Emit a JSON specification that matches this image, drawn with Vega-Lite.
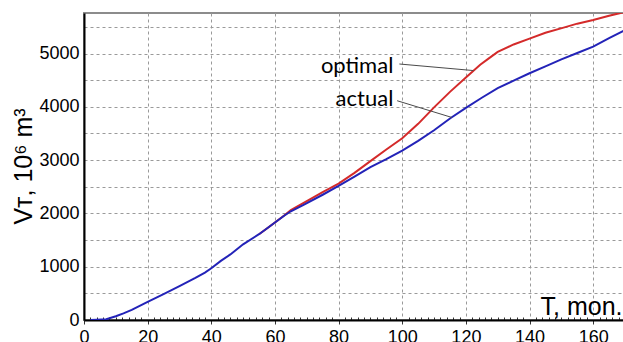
{
  "$schema": "https://vega.github.io/schema/vega-lite/v6.json",
  "width": 541,
  "height": 307,
  "autosize": {"type": "none"},
  "padding": {"left": 84, "top": 13, "right": 0, "bottom": 22},
  "background": "white",
  "config": {"view": {"stroke": "#8c8c8c", "strokeWidth": 2}, "font": "Liberation Sans"},
  "datasets": {
    "curves": [
      {"T": 55, "V": 1610, "s": "optimal"},
      {"T": 58, "V": 1740, "s": "optimal"},
      {"T": 60, "V": 1830, "s": "optimal"},
      {"T": 63, "V": 1965, "s": "optimal"},
      {"T": 65, "V": 2060, "s": "optimal"},
      {"T": 70, "V": 2230, "s": "optimal"},
      {"T": 75, "V": 2400, "s": "optimal"},
      {"T": 80, "V": 2560, "s": "optimal"},
      {"T": 85, "V": 2760, "s": "optimal"},
      {"T": 90, "V": 2980, "s": "optimal"},
      {"T": 95, "V": 3200, "s": "optimal"},
      {"T": 100, "V": 3410, "s": "optimal"},
      {"T": 105, "V": 3680, "s": "optimal"},
      {"T": 110, "V": 3990, "s": "optimal"},
      {"T": 115, "V": 4280, "s": "optimal"},
      {"T": 120, "V": 4550, "s": "optimal"},
      {"T": 124.5, "V": 4790, "s": "optimal"},
      {"T": 127, "V": 4900, "s": "optimal"},
      {"T": 130, "V": 5030, "s": "optimal"},
      {"T": 135, "V": 5170, "s": "optimal"},
      {"T": 140, "V": 5280, "s": "optimal"},
      {"T": 145, "V": 5390, "s": "optimal"},
      {"T": 150.7, "V": 5485, "s": "optimal"},
      {"T": 155, "V": 5560, "s": "optimal"},
      {"T": 160, "V": 5630, "s": "optimal"},
      {"T": 165, "V": 5710, "s": "optimal"},
      {"T": 170, "V": 5780, "s": "optimal"},
      {"T": 2, "V": 0, "s": "actual"},
      {"T": 4, "V": 5, "s": "actual"},
      {"T": 7, "V": 15, "s": "actual"},
      {"T": 10, "V": 70, "s": "actual"},
      {"T": 12.4, "V": 125, "s": "actual"},
      {"T": 15, "V": 190, "s": "actual"},
      {"T": 20, "V": 340, "s": "actual"},
      {"T": 25, "V": 485, "s": "actual"},
      {"T": 30, "V": 635, "s": "actual"},
      {"T": 35, "V": 790, "s": "actual"},
      {"T": 38, "V": 890, "s": "actual"},
      {"T": 40, "V": 970, "s": "actual"},
      {"T": 43, "V": 1110, "s": "actual"},
      {"T": 46, "V": 1230, "s": "actual"},
      {"T": 50, "V": 1420, "s": "actual"},
      {"T": 55, "V": 1610, "s": "actual"},
      {"T": 58, "V": 1740, "s": "actual"},
      {"T": 60, "V": 1830, "s": "actual"},
      {"T": 63, "V": 1960, "s": "actual"},
      {"T": 65, "V": 2040, "s": "actual"},
      {"T": 69, "V": 2160, "s": "actual"},
      {"T": 75, "V": 2350, "s": "actual"},
      {"T": 80, "V": 2515, "s": "actual"},
      {"T": 85, "V": 2690, "s": "actual"},
      {"T": 90, "V": 2870, "s": "actual"},
      {"T": 95, "V": 3020, "s": "actual"},
      {"T": 100, "V": 3180, "s": "actual"},
      {"T": 105, "V": 3360, "s": "actual"},
      {"T": 110, "V": 3560, "s": "actual"},
      {"T": 115, "V": 3780, "s": "actual"},
      {"T": 120, "V": 3980, "s": "actual"},
      {"T": 125, "V": 4170, "s": "actual"},
      {"T": 130, "V": 4350, "s": "actual"},
      {"T": 135, "V": 4490, "s": "actual"},
      {"T": 140, "V": 4630, "s": "actual"},
      {"T": 145, "V": 4760, "s": "actual"},
      {"T": 150, "V": 4890, "s": "actual"},
      {"T": 155, "V": 5010, "s": "actual"},
      {"T": 160, "V": 5130, "s": "actual"},
      {"T": 165, "V": 5290, "s": "actual"},
      {"T": 170, "V": 5440, "s": "actual"}
    ],
    "leaders": [
      {"x1": 99.1, "y1": 4803, "x2": 122.4, "y2": 4680},
      {"x1": 98.4, "y1": 4114, "x2": 115.6, "y2": 3800}
    ],
    "notes": [
      {"T": 97.2, "V": 4765, "label": "optimal"},
      {"T": 97.2, "V": 4146, "label": "actual"}
    ]
  },
  "layer": [
    {
      "data": {"name": "curves"},
      "mark": {"type": "line", "strokeWidth": 2, "clip": true},
      "encoding": {
        "x": {
          "field": "T", "type": "quantitative",
          "scale": {"domain": [0, 170], "nice": false},
          "axis": {
            "values": [0,2,4,6,8,10,12,14,16,18,20,22,24,26,28,30,32,34,36,38,40,42,44,46,48,50,52,54,56,58,60,62,64,66,68,70,72,74,76,78,80,82,84,86,88,90,92,94,96,98,100,102,104,106,108,110,112,114,116,118,120,122,124,126,128,130,132,134,136,138,140,142,144,146,148,150,152,154,156,158,160,162,164,166,168,170],
            "tickCount": 500,
            "format": "d",
            "labelExpr": "datum.value % 20 === 0 ? datum.label : ''",
            "labelFontSize": 18,
            "labelColor": "black",
            "labelPadding": 4,
            "labelFlush": false,
            "labelOverlap": false,
            "grid": true,
            "gridDash": [3, 3],
            "gridColor": "#9a9a9a",
            "gridWidth": 1,
            "gridOpacity": {"condition": {"test": "datum.value % 20 === 0 && datum.value > 0", "value": 1}, "value": 0},
            "domainColor": "black",
            "domainWidth": 2,
            "tickColor": "#333",
            "tickWidth": 1,
            "tickSize": {"condition": {"test": "datum.value % 20 === 0", "value": 4}, "value": -3},
            "title": "T, mon.",
            "titleFont": "Liberation Sans",
            "titleFontSize": 25,
            "titleFontWeight": "normal",
            "titleColor": "black",
            "titleAlign": "right",
            "titleBaseline": "alphabetic",
            "titleX": 538,
            "titleY": -6
          }
        },
        "y": {
          "field": "V", "type": "quantitative",
          "scale": {"domain": [0, 5760], "nice": false},
          "axis": {
            "values": [0,500,1000,1500,2000,2500,3000,3500,4000,4500,5000,5500],
            "tickCount": 100,
            "format": "d",
            "labelExpr": "datum.value % 1000 === 0 ? datum.label : ''",
            "labelFontSize": 18,
            "labelColor": "black",
            "labelPadding": 5,
            "labelOverlap": false,
            "ticks": false,
            "grid": true,
            "gridDash": [3, 3],
            "gridColor": "#9a9a9a",
            "gridWidth": 1,
            "domainColor": "black",
            "domainWidth": 2,
            "title": "Vᴛ, 10⁶ m³",
            "titleFont": "Liberation Sans",
            "titleFontSize": 25,
            "titleFontWeight": "normal",
            "titleColor": "black",
            "titleAngle": 270,
            "titleAlign": "center",
            "titleBaseline": "alphabetic",
            "titleX": -53,
            "titleY": 153
          }
        },
        "color": {
          "field": "s", "type": "nominal",
          "scale": {"domain": ["optimal", "actual"], "range": ["#d42a2a", "#2323b8"]},
          "legend": null
        }
      }
    },
    {
      "data": {"name": "leaders"},
      "mark": {"type": "rule", "color": "#4a4a4a", "strokeWidth": 1},
      "encoding": {
        "x": {"field": "x1", "type": "quantitative"},
        "y": {"field": "y1", "type": "quantitative"},
        "x2": {"field": "x2"},
        "y2": {"field": "y2"}
      }
    },
    {
      "data": {"name": "notes"},
      "mark": {"type": "text", "align": "right", "baseline": "middle", "font": "Lato", "fontSize": 22, "color": "black"},
      "encoding": {
        "x": {"field": "T", "type": "quantitative"},
        "y": {"field": "V", "type": "quantitative"},
        "text": {"field": "label"}
      }
    }
  ]
}
